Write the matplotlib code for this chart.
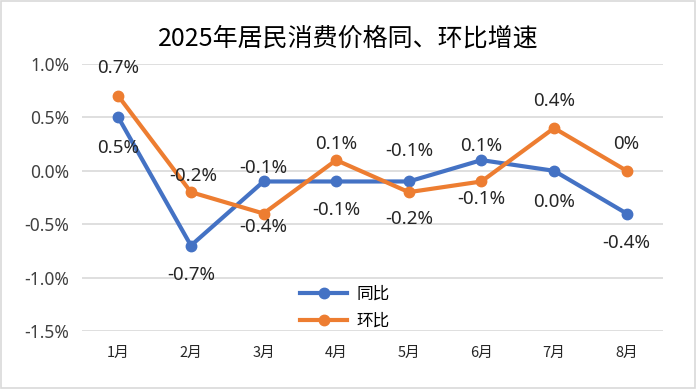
import matplotlib
matplotlib.use("Agg")
import matplotlib.pyplot as plt
from matplotlib.patches import Rectangle

plt.rcParams['font.family'] = ['Noto Sans CJK SC', 'DejaVu Sans']

months = ['1月', '2月', '3月', '4月', '5月', '6月', '7月', '8月']
yoy = [0.5, -0.7, -0.1, -0.1, -0.1, 0.1, 0.0, -0.4]
mom = [0.7, -0.2, -0.4, 0.1, -0.2, -0.1, 0.4, 0.0]
yoy_labels = ['0.5%', '-0.7%', '-0.1%', '-0.1%', '-0.1%', '0.1%', '0.0%', '-0.4%']
mom_labels = ['0.7%', '-0.2%', '-0.4%', '0.1%', '-0.2%', '-0.1%', '0.4%', '0%']
# data label offsets in pixels (positive = above the point)
yoy_off = [-31, -29, 13, -29, 30, 14, -31, -29]
mom_off = [28, 16, -13, 16, -27, -18, 27, 27]
mom_dx = [0, 2, 0, 0, 0, 0, 0, 0]

blue = '#4472C4'
orange = '#ED7D31'

fig = plt.figure(figsize=(6.97, 3.89), dpi=100)
fig.patches.append(Rectangle((0.002, 0.003), 0.995, 0.994, transform=fig.transFigure,
                             fill=False, edgecolor='#D9D9D9', linewidth=1.2))
ax = fig.add_axes([82 / 697, 1 - 331 / 389, 581 / 697, 267 / 389])

x = list(range(len(months)))
ax.plot(x, yoy, color=blue, linewidth=3, marker='o', markersize=7.5, label='同比', zorder=3)
ax.plot(x, mom, color=orange, linewidth=3, marker='o', markersize=7.5, label='环比', zorder=3)

for i in x:
    ax.annotate(yoy_labels[i], (i, yoy[i]), xytext=(0, yoy_off[i]), textcoords='offset pixels',
                ha='center', va='center', fontsize=13.5, color='#262626', family=['Noto Sans'])
    ax.annotate(mom_labels[i], (i, mom[i]), xytext=(mom_dx[i], mom_off[i]), textcoords='offset pixels',
                ha='center', va='center', fontsize=13.5, color='#262626', family=['Noto Sans'])

ax.set_xlim(-0.5, 7.5)
ax.set_ylim(-1.5, 1.0)
ax.set_yticks([-1.5, -1.0, -0.5, 0.0, 0.5, 1.0])
ax.set_yticklabels(['-1.5%', '-1.0%', '-0.5%', '0.0%', '0.5%', '1.0%'], fontsize=12.5,
                   color='#404040', family=['Noto Sans'])
ax.set_xticks(x)
ax.set_xticklabels(months, fontsize=10.5, color='#262626')
ax.tick_params(length=0)
ax.tick_params(axis='x', pad=11)
ax.tick_params(axis='y', pad=9)
ax.grid(axis='y', color='#D9D9D9', linewidth=1.2)
ax.set_axisbelow(True)
for s in ax.spines.values():
    s.set_visible(False)

fig.text(0.5, 0.902, '2025年居民消费价格同、环比增速', ha='center', va='center', fontsize=18, color='#000000')

ax.legend(loc='center', bbox_to_anchor=(0.453, 0.087), frameon=False, fontsize=12,
          handlelength=2.8, labelspacing=0.6, handletextpad=0.6)

fig.savefig('out.png', dpi=100)
